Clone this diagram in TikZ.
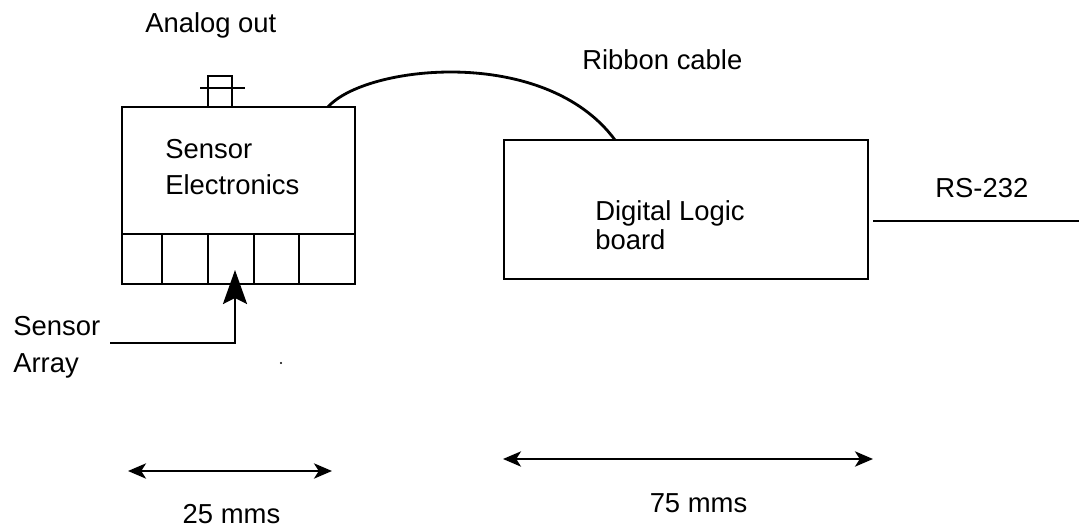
\documentclass[tikz,border=0pt]{standalone}
\usepackage{fontspec}
\setmainfont{Liberation Sans}
\usetikzlibrary{positioning,arrows.meta}
\tikzset{
  unit/.style={draw,line width=1.7pt,inner sep=0pt,outer sep=0pt},
  txt/.style={font=\fontsize{19.5}{23}\selectfont,inner sep=0pt,align=left},
  wire/.style={line width=1.7pt},
  span/.style={line width=1.7pt,{Stealth[length=4.5mm,width=3.8mm,inset=1.2mm]}-{Stealth[length=4.5mm,width=3.8mm,inset=1.2mm]}},
  pointer/.style={line width=1.8pt,-{Stealth[length=8.5mm,width=6mm,inset=1.5mm]}}
}

\begin{document}
\begin{tikzpicture}[x=0.025cm,y=-0.025cm]
  \useasboundingbox (0,0) rectangle (1079,531);
  % sensor head with its array of cells
  \node[unit,minimum width=5.825cm,minimum height=4.425cm,anchor=north west] (head) at (122,107) {};
  \draw[wire] (122,234) -- (355,234);
  \foreach \x in {162,208,254,299} \draw[wire] (\x,234) -- (\x,284);
  \node[unit,minimum width=0.6cm,minimum height=0.775cm,anchor=south] (plug) at (220,107) {};
  \draw[wire] (200,88) -- (245,88);
  \node[txt,anchor=base west] (analog) at (145,33) {Analog out};
  \node[txt,anchor=base west,font=\fontsize{19.5}{26.2}\selectfont] (elec) at (165,195) {Sensor\\Electronics};
  % logic board
  \node[unit,minimum width=9.1cm,minimum height=3.475cm,anchor=north west] (board) at (504,140) {};
  \node[txt,anchor=base west,font=\fontsize{19.5}{21.3}\selectfont] (logic) at (595,250) {Digital Logic\\board};
  % ribbon cable
  \coordinate (ribA) at (328,107);
  \coordinate (ribB) at (615,140);
  \draw[line width=2pt] (ribA) .. controls (365,65) and (545,45) .. (ribB);
  \node[txt,anchor=base west] (ribbon) at (582,70) {Ribbon cable};
  % serial out
  \coordinate (rsA) at (873,221);
  \coordinate (rsB) at (1079,221);
  \draw[wire] (rsA) -- (rsB);
  \node[txt,anchor=base west] (rs) at (935,198) {RS-232};
  % array pointer
  \node[txt,anchor=base west,font=\fontsize{19.5}{26.2}\selectfont] (array) at (13,372) {Sensor\\Array};
  \coordinate (ptA) at (110,343);
  \coordinate (ptB) at (235,270);
  \draw[pointer] (ptA) -| (ptB);
  \fill (281,363) circle (0.8pt);
  % dimensions
  \coordinate (d1a) at (128,471);
  \coordinate (d1b) at (332,471);
  \draw[span] (d1a) -- (d1b);
  \node[txt,anchor=base] (d1) at (231.5,523) {25 mms};
  \coordinate (d2a) at (503,459);
  \coordinate (d2b) at (873,459);
  \draw[span] (d2a) -- (d2b);
  \node[txt,anchor=base] (d2) at (698.5,512) {75 mms};
\end{tikzpicture}
\end{document}
